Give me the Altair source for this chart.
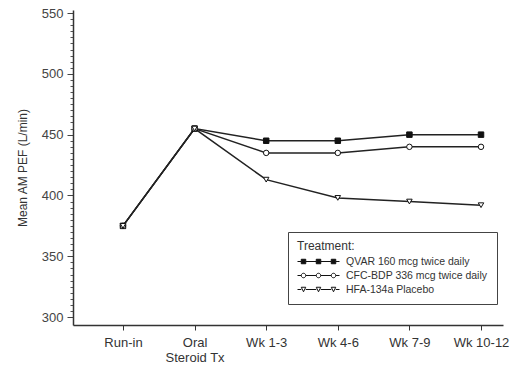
import altair as alt
import pandas as pd

categories = ["Run-in", "Oral Steroid Tx", "Wk 1-3", "Wk 4-6", "Wk 7-9", "Wk 10-12"]
series_names = ["QVAR 160 mcg twice daily", "CFC-BDP 336 mcg twice daily", "HFA-134a Placebo"]
qvar = [375, 455, 445, 445, 450, 450]
cfc = [375, 455, 435, 435, 440, 440]
hfa = [375, 455, 413, 398, 395, 392]
major_ticks = [300, 350, 400, 450, 500, 550]
minor_ticks = [v for v in range(300, 551, 5) if v % 50 != 0]

rows = []
for name, vals in zip(series_names, [qvar, cfc, hfa]):
    for i, (cat, v) in enumerate(zip(categories, vals)):
        rows.append({"idx": i, "period": cat, "series": name, "pef": v})
df = pd.DataFrame(rows)

label_expr = "[" + ",".join("'" + c + "'" for c in categories) + "][datum.value]"
label_expr = "datum.value == 1 ? ['Oral', 'Steroid Tx'] : " + label_expr

x_scale = alt.Scale(domain=[-0.698, 5.307], nice=False, zero=False)
y_scale = alt.Scale(domain=[293.5, 552.5], nice=False, zero=False)

x_axis = alt.Axis(
    values=list(range(len(categories))),
    labelExpr=label_expr,
    title=None,
    grid=False,
    tickSize=5,
    tickColor="#333",
    domainColor="#333",
    domainWidth=1.5,
    labelFont="Liberation Sans",
    labelFontSize=13,
    labelColor="#333",
    labelPadding=6,
    labelLineHeight=15,
)
x_enc = alt.X("idx:Q", scale=x_scale, axis=x_axis)

y_major = alt.Y(
    "pef:Q",
    scale=y_scale,
    axis=alt.Axis(
        orient="left",
        values=major_ticks,
        tickSize=6,
        title="Mean AM PEF (L/min)",
        titleFont="Liberation Sans",
        titleFontSize=12,
        titleFontWeight="normal",
        titleColor="#333",
        titlePadding=12,
        grid=False,
        tickColor="#444",
        domainColor="#333",
        domainWidth=1.5,
        labelFont="Liberation Sans",
        labelFontSize=13,
        labelColor="#444",
        labelPadding=4,
    ),
)
y_minor = alt.Y(
    "pef:Q",
    scale=y_scale,
    axis=alt.Axis(
        orient="left",
        values=minor_ticks,
        tickSize=3,
        labels=False,
        domain=False,
        title=None,
        grid=False,
        tickColor="#555",
    ),
)
y_none = alt.Y("pef:Q", scale=y_scale, axis=None)

lines = alt.Chart(df).mark_line(color="#222", strokeWidth=1.5).encode(
    x=x_enc, y=y_minor, detail="series:N"
)

points = alt.Chart(df).mark_point(stroke="#111", strokeWidth=1, size=30, opacity=1).encode(
    x=x_enc,
    y=y_major,
    shape=alt.Shape("series:N", scale=alt.Scale(domain=series_names,
                    range=["square", "circle", "triangle-down"]), legend=None),
    fill=alt.Fill("series:N", scale=alt.Scale(domain=series_names,
                  range=["#111", "white", "white"]), legend=None),
)


def seg_path(kind):
    xs = [-3.0, 0.0, 3.0]
    r = 0.45
    parts = ["M-4.2,0H-3.45", "M-2.55,0H-0.45", "M0.45,0H2.55", "M3.45,0H4.2"]
    for x in xs:
        if kind == "square":
            parts.append(f"M{x-r},{-r}h{2*r}v{2*r}h{-2*r}Z")
        elif kind == "circle":
            parts.append(f"M{x-r},0a{r},{r} 0 1,0 {2*r},0a{r},{r} 0 1,0 {-2*r},0Z")
        else:
            parts.append(f"M{x-r},{-r}L{x+r},{-r}L{x},{r}Z")
    return "".join(parts)


legend_paths = [seg_path("square"), seg_path("circle"), seg_path("triangle")]

legend_def = alt.Legend(
    title="Treatment:",
    orient="none",
    legendX=215,
    legendY=222,
    strokeColor="#444",
    padding=9,
    titleFont="Liberation Sans",
    titleFontSize=12,
    titleFontWeight="normal",
    titleColor="#333",
    titlePadding=3,
    labelFont="Liberation Sans",
    labelFontSize=10.5,
    labelColor="#333",
    symbolSize=100,
    symbolOffset=16,
    labelOffset=22,
    rowPadding=3,
    symbolOpacity=1,
    symbolStrokeWidth=1,
)

legend_layer = alt.Chart(df).mark_point(strokeWidth=1, opacity=0).encode(
    x=x_enc,
    y=y_none,
    shape=alt.Shape("series:N", scale=alt.Scale(domain=series_names, range=legend_paths),
                    legend=legend_def),
    fill=alt.Fill("series:N", scale=alt.Scale(domain=series_names,
                  range=["#111", "white", "white"]), legend=legend_def),
    stroke=alt.Stroke("series:N", scale=alt.Scale(domain=series_names,
                      range=["#111", "#111", "#111"]), legend=legend_def),
)

chart = alt.layer(legend_layer, lines, points).resolve_scale(
    shape="independent", fill="independent", stroke="independent"
).resolve_axis(y="independent").properties(
    width=430,
    height=315,
    padding={"left": 73, "top": 10, "right": 17, "bottom": 51},
    autosize=alt.AutoSizeParams(type="none"),
    background="white",
).configure_view(stroke=None)

chart.save("out.html", embed_options={"renderer": "svg", "actions": False})
